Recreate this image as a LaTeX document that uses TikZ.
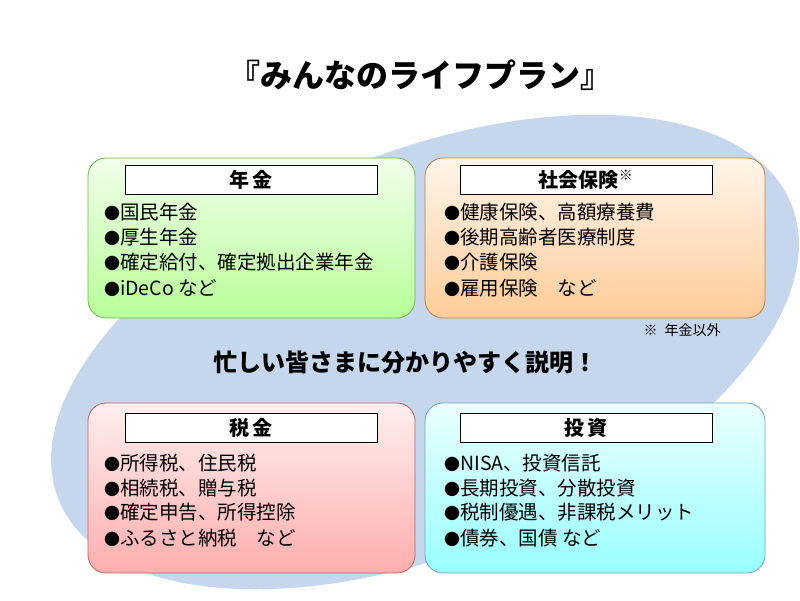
\documentclass[tikz,border=0pt]{standalone}
\usepackage{fontspec}
\setmainfont{Noto Sans CJK JP}
\usetikzlibrary{positioning}
\colorlet{pgreen}{green!70!yellow}
\colorlet{porange}{orange}
\colorlet{pred}{red!80}
\colorlet{pblue}{cyan}
\definecolor{ovalblue}{RGB}{198,214,236}
\newcommand{\dotmark}{{\fontsize{16}{16}\selectfont ●}}
\tikzset{
  panel/.style={draw=#1!60!black!70, line width=0.8pt, rounded corners=18pt,
    top color=#1!8, bottom color=#1!40},
  head/.style={draw, fill=white, line width=0.8pt, minimum width=252pt, minimum height=29pt,
    inner sep=0pt, font=\fontsize{20}{22}\selectfont\bfseries},
  item/.style={anchor=west, font=\fontsize{19.5}{22}\selectfont, inner sep=0pt}
}
\begin{document}
\begin{tikzpicture}[x=1pt,y=-1pt]
  \useasboundingbox (0,0) rectangle (800,600);
  \fill[ovalblue, rotate around={22:(425,352)}] (425,352) ellipse [x radius=395pt, y radius=200pt];

  \node (title) at (420,75) {\fontsize{32}{36}\selectfont\bfseries 『みんなのライフプラン』};

  % panels
  \path[panel=pgreen] (88,158) rectangle (415,318);
  \path[panel=porange] (425,158) rectangle (765,318);
  \path[panel=pred] (88,403) rectangle (415,573);
  \path[panel=pblue] (425,403) rectangle (765,573);

  \node[head] (h1) at (251,180) {年\,金};
  \node[head] (h2) at (586,180) {社会保険\textsuperscript{※}};
  \node[head] (h3) at (251,428) {税\,金};
  \node[head] (h4) at (586,428) {投\,資};

  \node[item] (a1) at (104,212) {\dotmark 国民年金};
  \node[item] (a2) at (104,237) {\dotmark 厚生年金};
  \node[item] (a3) at (104,262) {\dotmark 確定給付、確定拠出企業年金};
  \node[item] (a4) at (104,288) {\dotmark iDeCo など};

  \node[item] (b1) at (444,212) {\dotmark 健康保険、高額療養費};
  \node[item] (b2) at (444,237) {\dotmark 後期高齢者医療制度};
  \node[item] (b3) at (444,262) {\dotmark 介護保険};
  \node[item] (b4) at (444,288) {\dotmark 雇用保険\quad など};

  \node[item] (c1) at (104,463) {\dotmark 所得税、住民税};
  \node[item] (c2) at (104,488) {\dotmark 相続税、贈与税};
  \node[item] (c3) at (104,512) {\dotmark 確定申告、所得控除};
  \node[item] (c4) at (104,538) {\dotmark ふるさと納税\quad など};

  \node[item] (d1) at (444,463) {\dotmark NISA、投資信託};
  \node[item] (d2) at (444,488) {\dotmark 長期投資、分散投資};
  \node[item] (d3) at (444,512) {\dotmark 税制優遇、非課税メリット};
  \node[item] (d4) at (444,538) {\dotmark 債券、国債 など};

  \node (note) at (682,330) {\fontsize{14}{16}\selectfont ※\enspace 年金以外};
  \node (mid) at (405,362) {\fontsize{24}{28}\selectfont\bfseries 忙しい皆さまに分かりやすく説明！};
\end{tikzpicture}
\end{document}
